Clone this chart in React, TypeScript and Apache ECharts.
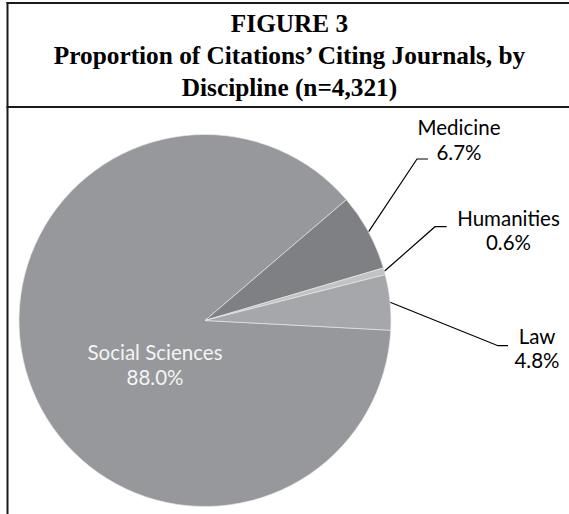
import React, { useEffect, useRef } from "react";
import * as echarts from "echarts";

// ---- data ----
const categories = ["Social Sciences", "Medicine", "Humanities", "Law"];
const shares = [88.0, 6.7, 0.6, 4.8];
const titleLines = [
  "FIGURE 3",
  "Proportion of Citations\u2019 Citing Journals, by",
  "Discipline (n=4,321)",
];

// ---- styles ----
const sliceColors = ["#97989b", "#7f8084", "#c3c3c5", "#a6a7aa"];

// label placement (chart pixels)
const labelSpots: Record<string, { x: number; y: number; elbow?: [number, number]; endX?: number }> = {
  "Social Sciences": { x: 155, y: 364.5 },
  Medicine: { x: 459, y: 139.5, elbow: [417, 159], endX: 428 },
  Humanities: { x: 508.5, y: 230, elbow: [435, 226.7], endX: 446.7 },
  Law: { x: 537, y: 348, elbow: [498, 345.7], endX: 508 },
};

export default function App() {
  const ref = useRef<HTMLDivElement>(null);

  useEffect(() => {
    if (!ref.current) return;
    const chart = echarts.init(ref.current, null, { renderer: "svg" });

    const option: any = {
      animation: false,
      backgroundColor: "#ffffff",
      graphic: [
        {
          type: "line",
          shape: { x1: 6.5, y1: 3, x2: 569, y2: 3 },
          style: { stroke: "#1a1a1a", lineWidth: 2 },
          silent: true,
        },
        {
          type: "line",
          shape: { x1: 7.5, y1: 2, x2: 7.5, y2: 514 },
          style: { stroke: "#1a1a1a", lineWidth: 2 },
          silent: true,
        },
        {
          type: "line",
          shape: { x1: 6.5, y1: 107, x2: 569, y2: 107 },
          style: { stroke: "#1a1a1a", lineWidth: 2 },
          silent: true,
        },
        {
          type: "text",
          x: 289.5,
          y: 7.5,
          silent: true,
          style: {
            text: titleLines.join("\n"),
            font: 'bold 25.3px "Liberation Serif", "Times New Roman", serif',
            fill: "#000",
            textAlign: "center",
            textVerticalAlign: "top",
            lineHeight: 31.7,
          },
        },
      ],
      series: [
        {
          type: "pie",
          center: [205, 320.5],
          radius: 186,
          startAngle: -3,
          clockwise: true,
          avoidLabelOverlap: false,
          silent: true,
          emphasis: { disabled: true },
          itemStyle: { borderColor: "rgba(235,235,235,0.9)", borderWidth: 0.7 },
          label: {
            show: true,
            position: "outside",
            formatter: (p: any) => `${p.name}\n${Number(p.value).toFixed(1)}%`,
            fontFamily: "Lato",
            fontSize: 20.5,
            lineHeight: 24.6,
            color: "#000",
          },
          labelLine: {
            show: true,
            length: 20,
            length2: 10,
            lineStyle: { color: "#000", width: 1.2 },
          },
          labelLayout: (params: any) => {
            const name = categories[params.dataIndex];
            const spot = labelSpots[name];
            const out: any = {
              x: spot.x,
              y: spot.y,
              align: "center",
              verticalAlign: "middle",
            };
            if (spot.elbow && params.labelLinePoints) {
              const start = params.labelLinePoints[0];
              out.labelLinePoints = [
                [start[0], start[1]],
                [spot.elbow[0], spot.elbow[1]],
                [spot.endX, spot.elbow[1]],
              ];
            }
            return out;
          },
          data: categories.map((name, i) => {
            const item: any = {
              name,
              value: shares[i],
              itemStyle: { color: sliceColors[i] },
            };
            if (i === 0) {
              item.label = { position: "inside", color: "#f4f4f4" };
              item.labelLine = { show: false };
            }
            return item;
          }),
        },
      ],
    };

    chart.setOption(option);
    return () => chart.dispose();
  }, []);

  return (
    <div
      ref={ref}
      style={{ position: "fixed", left: 0, top: 0, width: 569, height: 514 }}
    />
  );
}
